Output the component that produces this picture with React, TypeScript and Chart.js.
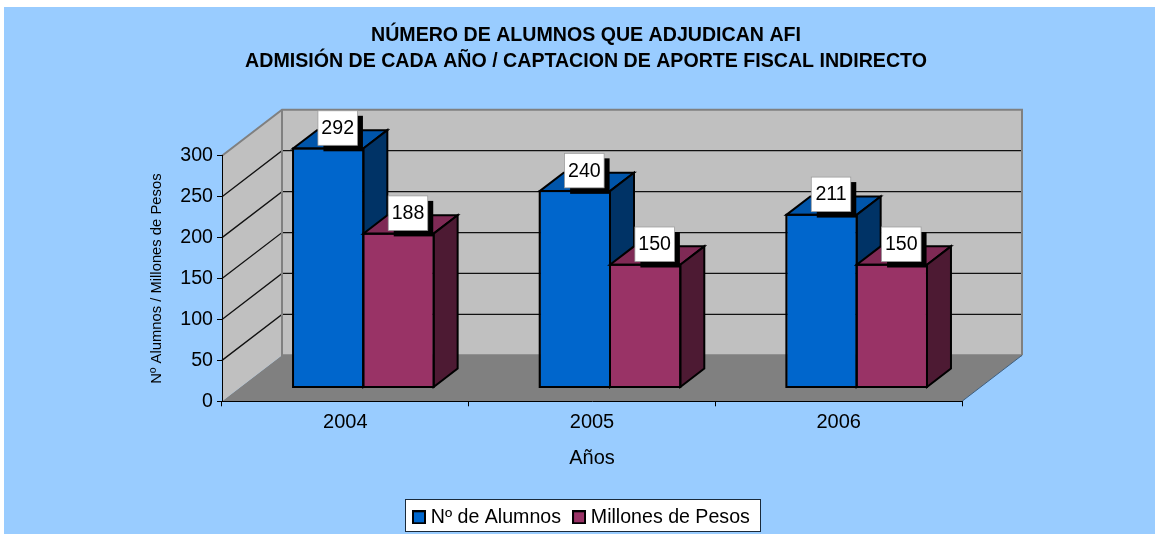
import React, { useEffect, useRef } from "react";
import { Chart, registerables } from "chart.js";

Chart.register(...registerables);

const years = ["2004", "2005", "2006"];
const alumnos = [292, 240, 211];
const millones = [188, 150, 150];

const FONT = "'Liberation Sans', Arial, sans-serif";
const AREA = { left: 222, right: 962, top: 155.5, bottom: 400.5 };
const WALL = { dx: 60, dy: -46 };
const FRONT = 0.3;
const DEPTH = 0.4;

const fronts = ["#0066CC", "#993366"];
const faces = [
  { top: "#0055AA", side: "#003366" },
  { top: "#7F2A55", side: "#4D1A33" },
];

function poly(ctx: CanvasRenderingContext2D, pts: number[][], fill: string, stroke?: string, lw = 2) {
  ctx.beginPath();
  pts.forEach((p, i) => (i ? ctx.lineTo(p[0], p[1]) : ctx.moveTo(p[0], p[1])));
  ctx.closePath();
  ctx.fillStyle = fill;
  ctx.fill();
  if (stroke) {
    ctx.strokeStyle = stroke;
    ctx.lineWidth = lw;
    ctx.lineJoin = "miter";
    ctx.stroke();
  }
}

function marker(color: string) {
  const c = document.createElement("canvas");
  c.width = 14;
  c.height = 14;
  const g = c.getContext("2d") as CanvasRenderingContext2D;
  g.fillStyle = color;
  g.fillRect(1, 1, 12, 12);
  g.strokeStyle = "#000000";
  g.lineWidth = 2;
  g.strokeRect(1, 1, 12, 12);
  return c;
}

const scene = {
  id: "scene",
  afterLayout(chart: any) {
    if (chart.titleBlock) {
      chart.titleBlock.left = 0;
      chart.titleBlock.right = 1172;
    }
    const l = chart.legend;
    if (l) {
      const h = l.height;
      l.left = 401;
      l.right = 790;
      l.top = 491.5;
      l.bottom = 491.5 + h;
    }
  },
  beforeDraw(chart: any) {
    const ctx: CanvasRenderingContext2D = chart.ctx;
    const { left, right, top, bottom } = chart.chartArea;
    const y = chart.scales.y;
    const { dx, dy } = WALL;
    ctx.save();
    ctx.fillStyle = "#99CCFF";
    ctx.fillRect(4, 7, 1151, 527);

    // floor
    poly(ctx, [[left, bottom], [right, bottom], [right + dx, bottom + dy], [left + dx, bottom + dy]], "#808080");
    // left wall
    poly(ctx, [[left, top], [left + dx, top + dy], [left + dx, bottom + dy], [left, bottom]], "#C0C0C0");
    // back wall
    poly(ctx, [[left + dx, top + dy], [right + dx, top + dy], [right + dx, bottom + dy], [left + dx, bottom + dy]], "#C0C0C0");

    // grid lines from the value axis
    ctx.strokeStyle = "#111111";
    ctx.lineWidth = 1.3;
    y.ticks.forEach((t: any) => {
      if (t.value === 0 || t.value === y.max) return;
      const py = y.getPixelForValue(t.value);
      ctx.beginPath();
      ctx.moveTo(left, py);
      ctx.lineTo(left + dx, py + dy);
      ctx.lineTo(right + dx, py + dy);
      ctx.stroke();
    });

    // wall frame
    ctx.strokeStyle = "#808080";
    ctx.lineWidth = 2;
    ctx.beginPath();
    ctx.moveTo(left, top);
    ctx.lineTo(left + dx, top + dy);
    ctx.lineTo(right + dx, top + dy);
    ctx.lineTo(right + dx, bottom + dy);
    ctx.moveTo(left + dx, top + dy);
    ctx.lineTo(left + dx, bottom + dy);
    ctx.lineTo(right + dx, bottom + dy);
    ctx.stroke();
    // floor right edge
    ctx.strokeStyle = "#3f5f7f";
    ctx.lineWidth = 1;
    ctx.beginPath();
    ctx.moveTo(right, bottom);
    ctx.lineTo(right + dx, bottom + dy);
    ctx.stroke();

    // legend frame
    ctx.fillStyle = "#FFFFFF";
    ctx.strokeStyle = "#1a2a3a";
    ctx.lineWidth = 1;
    ctx.fillRect(405.5, 499.5, 355, 32);
    ctx.strokeRect(405.5, 499.5, 355, 32);
    ctx.restore();
  },
  beforeDatasetsDraw(chart: any) {
    const ctx: CanvasRenderingContext2D = chart.ctx;
    const sx = WALL.dx * FRONT;
    const sy = WALL.dy * FRONT;
    const bx = WALL.dx * DEPTH;
    const by = WALL.dy * DEPTH;

    ctx.save();
    years.forEach((_, i) => {
      chart.data.datasets.forEach((_d: any, di: number) => {
        const el = chart.getDatasetMeta(di).data[i];
        const l = el.x - el.width / 2 + sx;
        const r = el.x + el.width / 2 + sx;
        const t = el.y + sy;
        const b = el.base + sy;
        poly(ctx, [[l, t], [r, t], [r + bx, t + by], [l + bx, t + by]], faces[di].top, "#000000");
        poly(ctx, [[r, t], [r + bx, t + by], [r + bx, b + by], [r, b]], faces[di].side, "#000000");
        ctx.save();
        ctx.translate(sx, sy);
        el.draw(ctx);
        ctx.restore();
        ctx.strokeStyle = "#000000";
        ctx.lineWidth = 2;
        ctx.strokeRect(l, t, r - l, b - t);
      });
    });

    // value labels
    chart.data.datasets.forEach((d: any, di: number) => {
      chart.getDatasetMeta(di).data.forEach((el: any, i: number) => {
        const cx = el.x + sx + 9.5;
        const cy = el.y + sy - 20.5;
        const w = 39.5;
        const h = 34.5;
        const x0 = cx - w / 2;
        const y0 = cy - h / 2;
        ctx.fillStyle = "#000000";
        ctx.fillRect(x0 + 5.5, y0 + 5, w, h + 1);
        ctx.fillStyle = "#FFFFFF";
        ctx.fillRect(x0, y0, w, h);
        ctx.strokeStyle = "#9a9a9a";
        ctx.lineWidth = 0.75;
        ctx.strokeRect(x0, y0, w, h);
        ctx.fillStyle = "#000000";
        ctx.font = "19.6px " + FONT;
        ctx.textAlign = "center";
        ctx.textBaseline = "middle";
        ctx.fillText(String(d.data[i]), cx, cy + 0.5);
      });
    });
    ctx.restore();
    return false;
  },
};

export default function App() {
  const ref = useRef<HTMLCanvasElement>(null);
  useEffect(() => {
    const markers = fronts.map(marker);
    const chart = new Chart(ref.current as HTMLCanvasElement, {
      type: "bar",
      data: {
        labels: years,
        datasets: [
          {
            label: "Nº de Alumnos",
            data: alumnos,
            backgroundColor: fronts[0],
            borderColor: "#000000",
            borderWidth: 1,
            borderSkipped: false,
          },
          {
            label: "Millones de Pesos",
            data: millones,
            backgroundColor: fronts[1],
            borderColor: "#000000",
            borderWidth: 1,
            borderSkipped: false,
          },
        ],
      },
      options: {
        responsive: false,
        animation: false,
        events: [],
        layout: { padding: { left: 0, right: 1155 - AREA.right, top: 0, bottom: 0 } },
        datasets: { bar: { barPercentage: 1, categoryPercentage: 0.57 } },
        scales: {
          x: {
            type: "category",
            afterFit(s: any) {
              s.height = 87.1;
            },
            border: { display: true, color: "#000000", width: 1 },
            grid: { drawOnChartArea: false, drawTicks: true, tickLength: 5, color: "#000000" },
            ticks: { color: "#000000", font: { family: FONT, size: 20 }, padding: 4, maxRotation: 0 },
            title: {
              display: true,
              text: "Años",
              color: "#000000",
              font: { family: FONT, size: 20 },
              padding: { top: 0, bottom: 17.6 },
            },
          },
          y: {
            min: 0,
            max: 300,
            afterFit(s: any) {
              s.width = AREA.left;
            },
            border: { display: true, color: "#000000", width: 1 },
            grid: { drawOnChartArea: false, drawTicks: true, tickLength: 5, color: "#000000" },
            ticks: { stepSize: 50, color: "#000000", font: { family: FONT, size: 19.6 }, padding: 4 },
            title: {
              display: true,
              text: "Nº Alumnos / Millones de Pesos",
              color: "#000000",
              font: { family: FONT, size: 14.8 },
              padding: { top: 148.5, bottom: 0 },
            },
          },
        },
        plugins: {
          title: {
            display: true,
            text: [
              "NÚMERO DE ALUMNOS QUE ADJUDICAN AFI",
              "ADMISIÓN DE CADA AÑO / CAPTACION DE APORTE FISCAL INDIRECTO",
            ],
            color: "#000000",
            font: { family: FONT, size: 19.6, weight: "bold", lineHeight: 26 / 19.6 },
            padding: { top: 23, bottom: 155.5 - 23 - 52 + 0.3 },
          },
          legend: {
            display: true,
            position: "bottom",
            align: "start",
            labels: {
              color: "#000000",
              font: { family: FONT, size: 19.6 },
              usePointStyle: true,
              pointStyleWidth: 4,
              boxHeight: 13,
              padding: 16,
              generateLabels: (c: any) =>
                Chart.defaults.plugins.legend.labels
                  .generateLabels(c)
                  .map((l: any, i: number) => ({ ...l, pointStyle: markers[i] })),
            },
          },
          tooltip: { enabled: false },
        },
      },
      plugins: [scene],
    } as any);
    return () => chart.destroy();
  }, []);
  return (
    <div style={{ position: "absolute", left: 0, top: 0, width: 1155, height: 534, overflow: "hidden" }}>
      <canvas ref={ref} width={1155} height={534} style={{ display: "block", width: 1155, height: 534 }} />
    </div>
  );
}
